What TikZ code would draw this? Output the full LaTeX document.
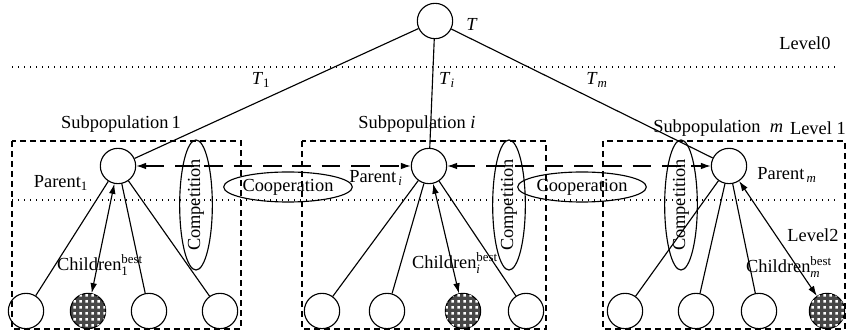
\documentclass[tikz,border=0pt]{standalone}
\usepackage{amsmath}
\usepackage{fontspec}
\setmainfont{Liberation Serif}
\usetikzlibrary{arrows.meta,shapes.geometric,patterns}
\pgfdeclarepatternformonly{whitesq}{\pgfpointorigin}{\pgfqpoint{4.5pt}{4.5pt}}{\pgfqpoint{4.5pt}{4.5pt}}{%
  \pgfpathrectangle{\pgfqpoint{1.1pt}{1.1pt}}{\pgfqpoint{2.3pt}{2.3pt}}\pgfusepath{fill}}

\begin{document}
\begin{tikzpicture}[x=0.75pt,y=-0.75pt,font=\fontsize{13.8}{16}\selectfont,>={Latex[length=7.5pt,width=5pt]}]
                      \tikzstyle{point}=[circle,draw=black,line width=0.85pt,inner sep=0pt,minimum size=26.5pt]
                      \tikzstyle{best}=[point,fill=black!72,postaction={pattern=whitesq,pattern color=white}]
                      \tikzstyle{oval}=[ellipse,draw=black,line width=0.85pt,inner sep=0pt]
                      \tikzstyle{group}=[draw=black,line width=0.85pt,dash pattern=on 4.5pt off 3pt]
                      \tikzstyle{level}=[line width=0.8pt,dash pattern=on 0.8pt off 3.7pt]
                      \tikzstyle{link}=[line width=0.85pt]
                      \tikzstyle{coop}=[link,<->,dash pattern=on 14pt off 8pt]
                      \tikzstyle{lbl}=[inner sep=0pt]
                      \useasboundingbox (0,0) rectangle (847,334);
                      \draw[level] (12,67) -- (835,67);
                      \draw[level] (12,200) -- (835,200);
                      \draw[group] (12,141) rectangle (241,329);
                      \draw[group] (302,141) rectangle (546,329);
                      \draw[group] (603,141) rectangle (845,329);
                      \node[point] (t) at (435,21) {};
                      \node[point] (a) at (118,166) {};
                      \node[point] (b) at (429,166) {};
                      \node[point] (c) at (729,166) {};
                      \node[point] (a1) at (26,311) {};
                      \node[best] (a2) at (88,311) {};
                      \node[point] (a3) at (149,311) {};
                      \node[point] (a4) at (220,311) {};
                      \node[point] (b1) at (322,311) {};
                      \node[point] (b2) at (387,311) {};
                      \node[best] (b3) at (463,311) {};
                      \node[point] (b4) at (526,311) {};
                      \node[point] (c1) at (625,311) {};
                      \node[point] (c2) at (696,311) {};
                      \node[point] (c3) at (759,311) {};
                      \node[best] (c4) at (827,311) {};
                      \node[oval,rotate=90,minimum width=79.5pt,minimum height=24.5pt] (ka) at (196,205) {Competition};
                      \node[oval,rotate=90,minimum width=79.5pt,minimum height=24.5pt] (kb) at (509,205) {Competition};
                      \node[oval,rotate=90,minimum width=79.5pt,minimum height=24.5pt] (kc) at (681,205) {Competition};
                      \node[oval,minimum width=82.5pt,minimum height=22.5pt] (oa) at (288,187) {Cooperation};
                      \node[oval,minimum width=82.5pt,minimum height=22.5pt] (ob) at (582,187) {Cooperation};
                      \draw[link] (t) -- (a);
                      \draw[link] (t) -- (b);
                      \draw[link] (t) -- (c);
                      \draw[link] (a) -- (a1);
                      \draw[link,<->] (a) -- (a2);
                      \draw[link] (a) -- (a3);
                      \draw[link] (a) -- (a4);
                      \draw[link] (b) -- (b1);
                      \draw[link] (b) -- (b2);
                      \draw[link,<->] (b) -- (b3);
                      \draw[link] (b) -- (b4);
                      \draw[link] (c) -- (c1);
                      \draw[link] (c) -- (c2);
                      \draw[link] (c) -- (c3);
                      \draw[link,<->] (c) -- (c4);
                      \draw[coop] (a) -- (b);
                      \draw[coop] (b) -- (c);
                      \node[lbl] at (472,24) {\textit{T}};
                      \node[lbl] at (805,43) {Level0};
                      \node[lbl] at (261,80) {\textit{T}\textsubscript{1}};
                      \node[lbl] at (447,80) {\textit{T}\textsubscript{\textit{i}}};
                      \node[lbl] at (597,80) {\textit{T}\textsubscript{\textit{m}}};
                      \node[lbl] at (121,124) {Subpopulation\,1};
                      \node[lbl] at (417,124) {Subpopulation \textit{i}};
                      \node[lbl,anchor=west] at (653,128) {Subpopulation~~\textit{m}};
                      \node[lbl,anchor=east] at (846,128) {Level 1};
                      \node[lbl] at (61,183) {Parent\textsubscript{1}};
                      \node[lbl] at (376,178) {Parent\textsubscript{\,\textit{i}}};
                      \node[lbl] at (787,175) {Parent\textsubscript{\,\textit{m}}};
                      \node[lbl] at (813,235) {Level2};
                      \node[lbl] at (100,265) {$\text{Children}^{\text{best}}_{\text{1}}$};
                      \node[lbl] at (455,263) {$\text{Children}^{\text{best}}_{\text{\itshape i}}$};
                      \node[lbl] at (789,267) {$\text{Children}^{\text{best}}_{\text{\itshape m}}$};
\end{tikzpicture}
\end{document}
